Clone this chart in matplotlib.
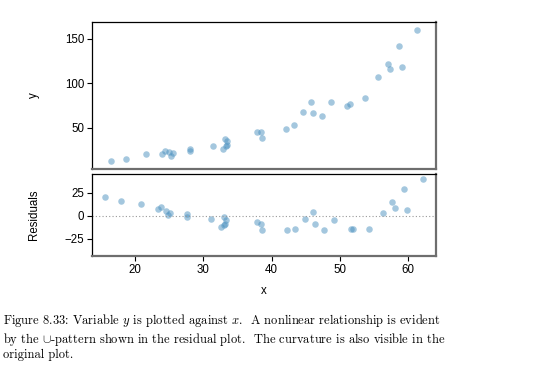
import matplotlib.pyplot as plt
import numpy as np

x = [15.6, 17.9, 20.9, 23.4, 23.8, 24.5, 24.8, 25.1, 27.6, 27.7,
     31.1, 32.6, 33.0, 33.3, 33.2, 33.1, 37.9, 38.4, 38.6, 42.2,
     43.5, 44.9, 46.0, 46.4, 47.7, 49.1, 51.6, 52.0, 54.3, 56.3,
     57.7, 58.1, 59.4, 59.9, 62.2]
y = [12.2, 14.4, 20.0, 20.8, 24.2, 22.3, 18.5, 21.5, 26.4, 23.8,
     29.8, 26.4, 37.3, 34.6, 30.9, 29.4, 45.5, 44.8, 38.0, 48.5,
     53.0, 67.2, 79.2, 66.1, 63.1, 79.2, 74.3, 76.6, 83.0, 106.9,
     121.2, 116.3, 141.8, 118.5, 159.7]
resid = [20.1, 16.1, 12.8, 6.9, 9.9, 5.5, 1.1, 3.3, 1.5, -1.8,
         -4.0, -12.0, -1.8, -5.1, -9.1, -10.6, -6.6, -8.8, -16.1, -15.7,
         -14.6, -4.0, 4.0, -9.1, -15.7, -4.4, -15.0, -15.0, -15.0, 3.3,
         14.6, 8.0, 29.2, 5.8, 40.5]

caption = ("Figure 8.33: Variable $y$ is plotted against $x$.  A nonlinear relationship is evident\n"
           "by the $\\cup$-pattern shown in the residual plot.  The curvature is also visible in the\n"
           "original plot.")

plt.rcParams['font.family'] = ['Liberation Sans', 'DejaVu Sans']
plt.rcParams['axes.unicode_minus'] = True
plt.rcParams['mathtext.fontset'] = 'cm'

fig = plt.figure(figsize=(5.5, 3.84), dpi=100)
ax1 = fig.add_axes([0.167, 0.560, 0.626, 0.382])
ax2 = fig.add_axes([0.167, 0.333, 0.626, 0.214])

pt_color = '#4A90BF'


def style(ax):
    for side in ['left', 'top']:
        ax.spines[side].set_color('black')
        ax.spines[side].set_linewidth(0.9)
    for side in ['right', 'bottom']:
        ax.spines[side].set_color('#6e6e6e')
        ax.spines[side].set_linewidth(1.6)
    ax.tick_params(axis='both', labelsize=8.3, length=3.5, width=0.8, pad=2)


ax1.scatter(x, y, s=22, color=pt_color, alpha=0.5, linewidths=0)
ax1.set_xlim(12.7, 65.1)
ax1.set_ylim(3.6, 168.7)
ax1.set_yticks([50, 100, 150])
ax1.set_xticks([])
ax1.set_ylabel('y', fontsize=8.3)
ax1.yaxis.set_label_coords(-0.15, 0.5)
style(ax1)

ax2.axhline(0, color='#999999', linestyle=(0, (1, 2)), linewidth=0.8)
ax2.scatter(x, resid, s=22, color=pt_color, alpha=0.5, linewidths=0)
ax2.set_xlim(13.7, 64.1)
ax2.set_ylim(-44.2, 45.6)
ax2.set_yticks([-25, 0, 25])
ax2.set_xticks([20, 30, 40, 50, 60])
ax2.set_ylabel('Residuals', fontsize=8.3)
ax2.yaxis.set_label_coords(-0.15, 0.5)
ax2.set_xlabel('x', fontsize=8.3, labelpad=7)
style(ax2)

fig.text(0.006, 0.187, caption, fontsize=9.0, family='cmr10',
         va='top', ha='left', linespacing=1.12)

fig.savefig('out.png', dpi=100)
